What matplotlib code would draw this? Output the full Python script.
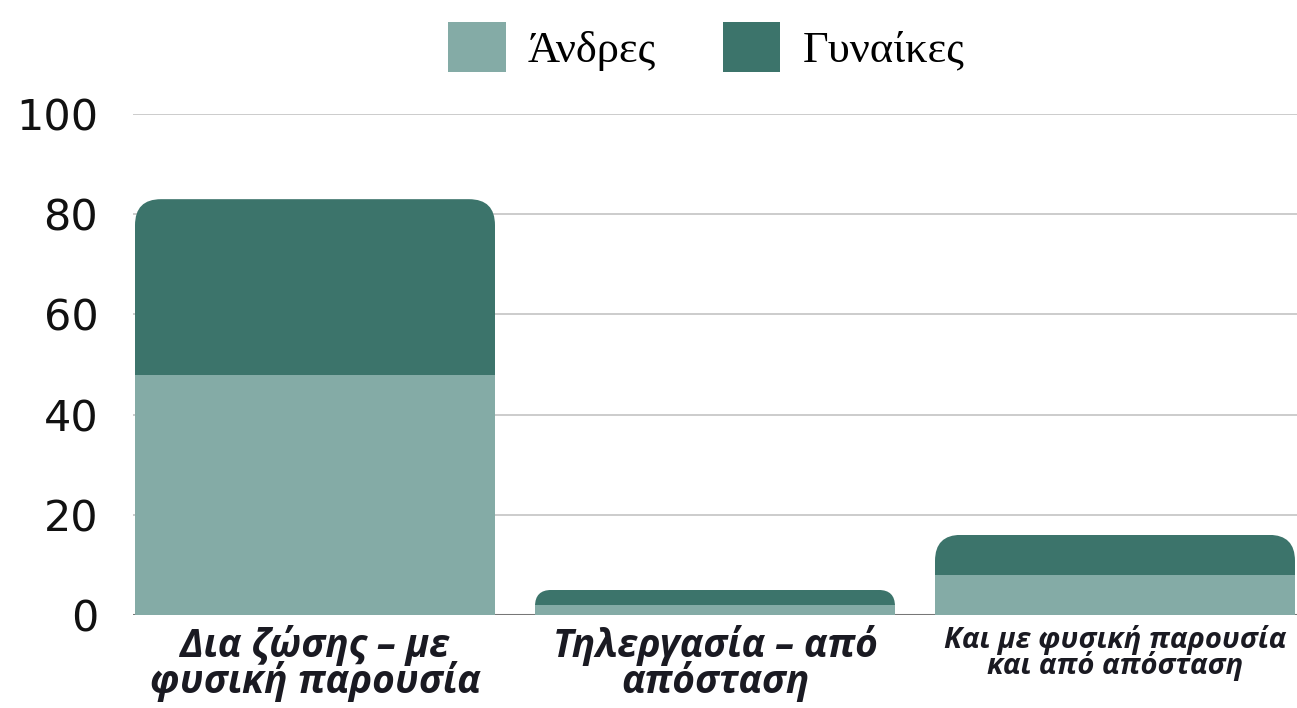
import matplotlib
matplotlib.use("Agg")
import matplotlib.pyplot as plt
from matplotlib.patches import FancyBboxPatch
from matplotlib.transforms import IdentityTransform

categories = ["Δια ζώσης – με\nφυσική παρουσία",
              "Τηλεργασία – από\nαπόσταση",
              "Και με φυσική παρουσία\nκαι από απόσταση"]
men = [48, 2, 8]
women = [35, 3, 8]
yticks = [0, 20, 40, 60, 80, 100]

c_men = "#84aba6"
c_women = "#3c746b"

fig = plt.figure(figsize=(12.97, 7.08), dpi=100)
ax = fig.add_axes([133 / 1297, 93 / 708, 1164 / 1297, 501 / 708])

x = list(range(len(categories)))
w = 0.9
ax.set_xlim(-0.455, 2.455)
ax.set_ylim(0, 100)

b1 = ax.bar(x, men, width=w, color=c_men, label="Άνδρες", zorder=3)
b2 = ax.bar(x, women, width=w, bottom=men, color=c_women, label="Γυναίκες", zorder=3)

# rounded top corners: clip each stacked bar to a rounded box in pixels
r = 26
for i in x:
    total = men[i] + women[i]
    x0, y0 = ax.transData.transform((i - w / 2, 0))
    x1, y1 = ax.transData.transform((i + w / 2, total))
    rr = min(r, 0.65 * (y1 - y0))
    clip = FancyBboxPatch((x0, y0 - r), x1 - x0, y1 - y0 + r,
                          boxstyle=f"round,pad=0,rounding_size={rr}",
                          transform=IdentityTransform())
    b1[i].set_clip_path(clip)
    b2[i].set_clip_path(clip)

ax.set_yticks(yticks)
ax.yaxis.grid(True, color="#c8c8c8", linewidth=1.3, zorder=0)
ax.axhline(0, color="#777777", linewidth=2.2, zorder=2)
for s in ax.spines.values():
    s.set_visible(False)
ax.tick_params(axis="y", length=0, pad=25, labelsize=31, labelcolor="#111111")
ax.tick_params(axis="x", length=0, pad=7)
for t in ax.get_yticklabels():
    t.set_family("DejaVu Sans")

ax.set_xticks(x)
ax.set_xticklabels(categories)
for i, t in enumerate(ax.get_xticklabels()):
    t.set_family("Open Sans")
    t.set_fontweight("bold")
    t.set_fontstyle("italic")
    t.set_color("#1a1a22")
    t.set_linespacing(0.85)
    t.set_fontsize(28 if i < 2 else 21)

leg = fig.legend(loc="center", bbox_to_anchor=(706 / 1297, 1 - 47 / 708),
                 ncol=2, frameon=False,
                 prop={"family": "Liberation Serif", "size": 32},
                 handlelength=1.3, handleheight=1.35, handletextpad=0.5,
                 columnspacing=1.5)

fig.savefig("out.png", dpi=100)
